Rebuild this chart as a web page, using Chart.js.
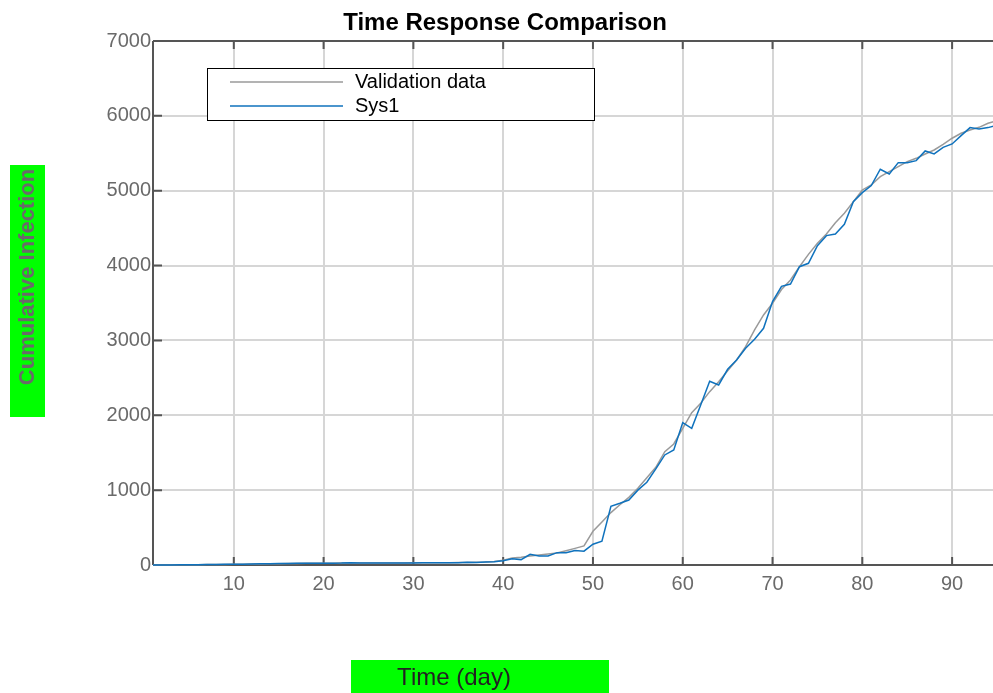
<!DOCTYPE html>
<html>
<head>
<meta charset="utf-8">
<script src="https://cdn.jsdelivr.net/npm/chart.js@4/dist/chart.umd.min.js"></script>
<style>
  html, body { margin: 0; padding: 0; background: #fff; overflow: hidden; }
  #wrap { width: 993px; height: 693px; overflow: hidden; position: relative; }
  canvas { display: block; }
</style>
</head>
<body>
<div id="wrap"><canvas id="resp" width="997" height="693"></canvas></div>
<script>
// days 1..95
const days = Array.from({ length: 95 }, (_, i) => i + 1);

const validationData = [
  0, 1, 1, 2, 3, 4, 6, 7, 8, 10,
  11, 12, 14, 16, 18, 20, 21, 22, 23, 24,
  25, 26, 26, 27, 27, 27, 28, 28, 28, 29,
  29, 30, 30, 31, 32, 33, 36, 40, 48, 65,
  92, 103, 120, 135, 147, 160, 190, 222, 255, 450,
  575, 700, 805, 904, 1025, 1167, 1305, 1514, 1617, 1826,
  2035, 2160, 2316, 2449, 2596, 2739, 2917, 3140, 3340, 3496,
  3680, 3808, 3985, 4150, 4297, 4422, 4573, 4699, 4854, 5010,
  5077, 5188, 5255, 5321, 5388, 5433, 5491, 5544, 5620, 5701,
  5767, 5812, 5847, 5901, 5936
];

const sys1 = [
  0, 0, 1, 2, 3, 5, 8, 8, 9, 10,
  11, 13, 16, 18, 20, 21, 23, 24, 24, 25,
  25, 26, 30, 26, 27, 27, 27, 28, 28, 28,
  29, 29, 30, 30, 31, 36, 34, 40, 45, 57,
  84, 72, 143, 120, 120, 165, 165, 195, 185, 278,
  318, 785, 824, 868, 1000, 1105, 1283, 1470, 1537, 1902,
  1826, 2138, 2454, 2405, 2614, 2739, 2895, 3015, 3162, 3520,
  3722, 3754, 3985, 4030, 4266, 4400, 4422, 4551, 4854, 4974,
  5068, 5287, 5224, 5375, 5375, 5402, 5531, 5491, 5580, 5625,
  5736, 5843, 5825, 5843, 5874
];

const xTicks = [10, 20, 30, 40, 50, 60, 70, 80, 90];
const yTicks = [0, 1000, 2000, 3000, 4000, 5000, 6000, 7000];
const seriesNames = ['Validation data', 'Sys1'];
const seriesColors = ['#9a9a9a', '#0f72bd'];

const axisColor = '#555';
const tickText = '#6a6a6a';
const sans = '"Liberation Sans", Arial, sans-serif';

// frame and inner tick marks go under the curves
const frame = {
  id: 'frame',
  beforeDatasetsDraw(chart) {
    const { ctx, chartArea: a, scales: { x, y } } = chart;
    ctx.save();
    ctx.strokeStyle = axisColor;
    ctx.lineWidth = 2;
    ctx.beginPath();
    ctx.moveTo(a.left, a.top); ctx.lineTo(a.right, a.top);
    ctx.moveTo(a.left, a.top); ctx.lineTo(a.left, a.bottom);
    ctx.moveTo(a.left, a.bottom); ctx.lineTo(a.right, a.bottom);
    xTicks.forEach(v => {
      const px = x.getPixelForValue(v);
      ctx.moveTo(px, a.bottom); ctx.lineTo(px, a.bottom - 8);
      ctx.moveTo(px, a.top); ctx.lineTo(px, a.top + 8);
    });
    yTicks.forEach(v => {
      const py = y.getPixelForValue(v);
      ctx.moveTo(a.left, py); ctx.lineTo(a.left + 9, py);
    });
    ctx.stroke();
    ctx.restore();
  }
};

// title, axis labels and legend box
const decor = {
  id: 'decor',
  afterDraw(chart) {
    const { ctx } = chart;
    ctx.save();
    ctx.fillStyle = '#000';
    ctx.font = 'bold 24px ' + sans;
    ctx.textAlign = 'center';
    ctx.textBaseline = 'alphabetic';
    ctx.fillText('Time Response Comparison', 505, 30);

    // y label
    ctx.fillStyle = '#00ff00';
    ctx.fillRect(10, 165, 35, 252);
    ctx.save();
    ctx.translate(28, 277);
    ctx.rotate(-Math.PI / 2);
    ctx.fillStyle = '#6a6a6a';
    ctx.font = 'bold 22px ' + sans;
    ctx.textBaseline = 'middle';
    ctx.fillText('Cumulative Infection', 0, 0);
    ctx.restore();

    // x label
    ctx.fillStyle = '#00ff00';
    ctx.fillRect(351, 660, 258, 34);
    ctx.fillStyle = '#222';
    ctx.font = '24px ' + sans;
    ctx.textBaseline = 'middle';
    ctx.fillText('Time (day)', 454, 678);

    // legend
    ctx.fillStyle = '#fff';
    ctx.fillRect(207, 68, 387, 52);
    ctx.strokeStyle = '#000';
    ctx.lineWidth = 1;
    ctx.strokeRect(207.5, 68.5, 387, 52);
    ctx.font = '20px ' + sans;
    ctx.textAlign = 'left';
    seriesNames.forEach((name, i) => {
      const ly = 82 + i * 24;
      ctx.strokeStyle = seriesColors[i];
      ctx.lineWidth = 1.5;
      ctx.beginPath();
      ctx.moveTo(230, ly); ctx.lineTo(343, ly);
      ctx.stroke();
      ctx.fillStyle = '#000';
      ctx.fillText(name, 355, ly);
    });
    ctx.restore();
  }
};

new Chart(document.getElementById('resp'), {
  type: 'line',
  data: {
    datasets: [
      {
        label: seriesNames[1],
        data: days.map((d, i) => ({ x: d, y: sys1[i] })),
        borderColor: seriesColors[1],
        borderWidth: 1.5,
        pointRadius: 0,
        tension: 0,
        clip: 2,
        order: 0
      },
      {
        label: seriesNames[0],
        data: days.map((d, i) => ({ x: d, y: validationData[i] })),
        borderColor: seriesColors[0],
        borderWidth: 1.5,
        pointRadius: 0,
        tension: 0,
        clip: 2,
        order: 1
      }
    ]
  },
  options: {
    responsive: false,
    devicePixelRatio: 1,
    animation: false,
    layout: { padding: { top: 41, right: 0, left: 0, bottom: 0 } },
    plugins: { legend: { display: false }, title: { display: false }, tooltip: { enabled: false } },
    scales: {
      x: {
        type: 'linear',
        min: 1,
        max: 95,
        afterBuildTicks: s => { s.ticks = xTicks.map(v => ({ value: v })); },
        afterFit: s => { s.height = 128; },
        grid: { color: '#d6d6d6', lineWidth: 2, drawTicks: false },
        border: { display: false },
        ticks: {
          color: tickText,
          padding: 7,
          maxRotation: 0,
          autoSkip: false,
          font: { family: sans, size: 20 }
        }
      },
      y: {
        min: 0,
        max: 7000,
        afterBuildTicks: s => { s.ticks = yTicks.map(v => ({ value: v })); },
        afterFit: s => { s.width = 153; },
        grid: { color: '#d6d6d6', lineWidth: 2, drawTicks: false },
        border: { display: false },
        ticks: {
          color: tickText,
          padding: 2,
          callback: v => String(v),
          font: { family: sans, size: 20 }
        }
      }
    }
  },
  plugins: [frame, decor]
});
</script>
</body>
</html>
